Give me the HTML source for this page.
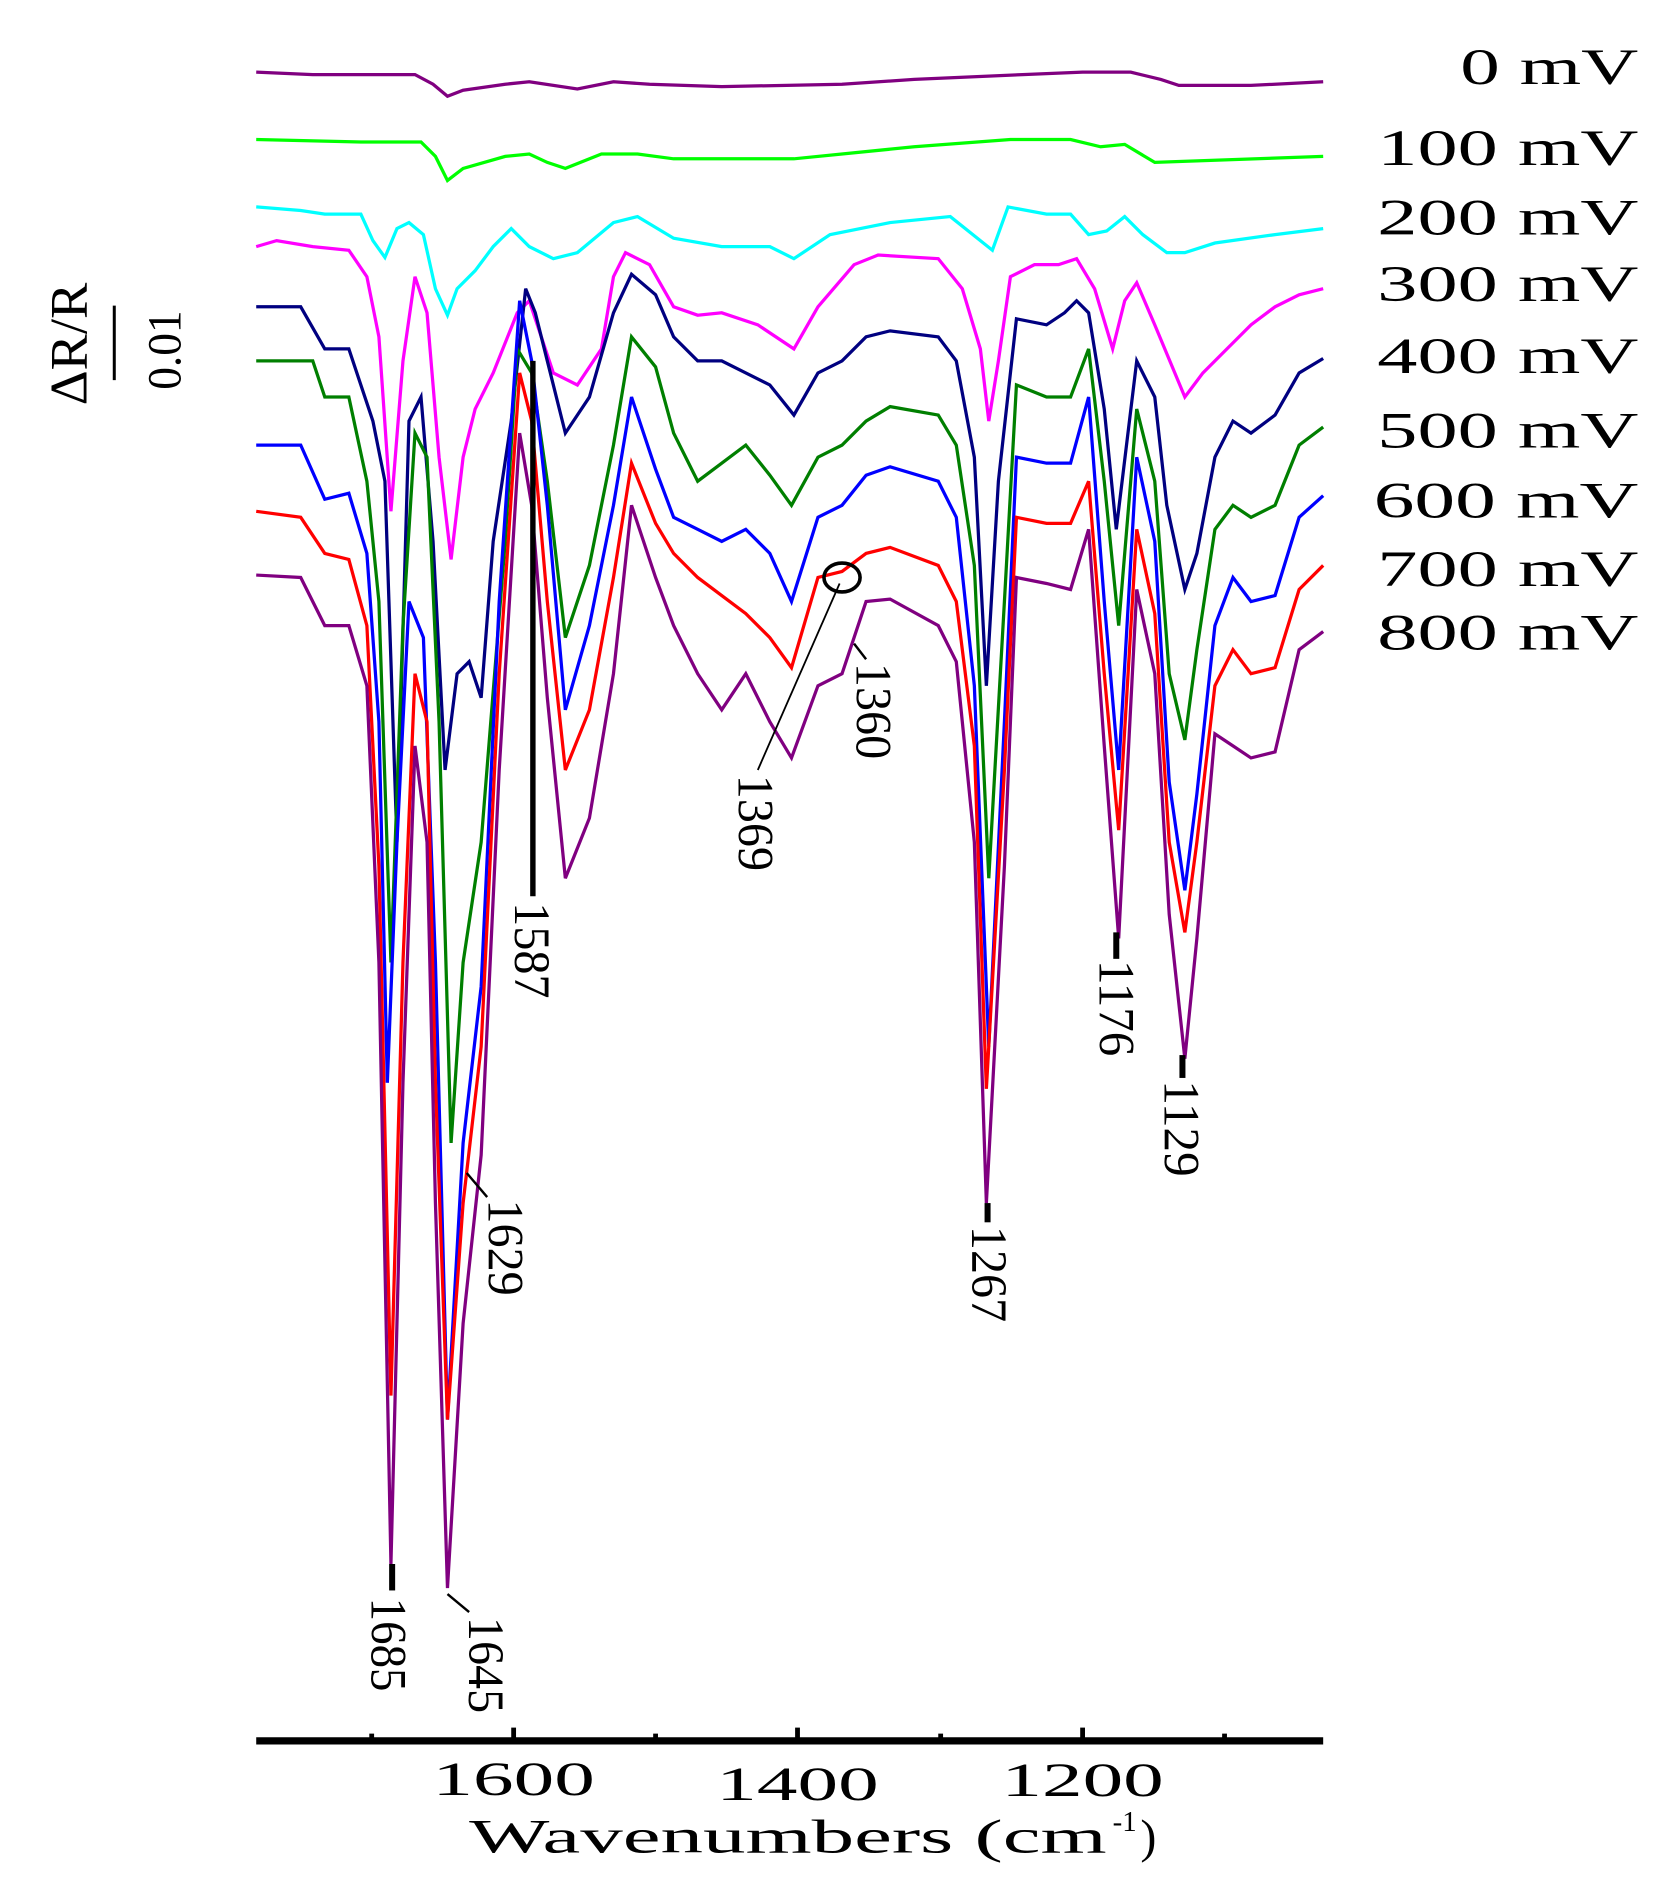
<!DOCTYPE html>
<html><head><meta charset="utf-8"><style>html,body{margin:0;padding:0;background:#fff}svg{display:block}</style></head>
<body>
<svg width="1666" height="1884" viewBox="0 0 1385 1566" preserveAspectRatio="none" xmlns="http://www.w3.org/2000/svg" font-family="Liberation Serif, serif">
<g fill="none" stroke-width="2.7" stroke-linejoin="miter">
<polyline stroke="#800080" points="213,60 260,62 345,62 360,70 372,80 385,75 420,70 440,68 480,74 510,68 540,70 600,72 700,70 760,66 850,62 900,60 940,60 965,66 980,71 1040,71 1100,68"/>
<polyline stroke="#00ff00" points="213,116 300,118 350,118 362,130 372,150 385,140 420,130 440,128 455,135 470,140 500,128 530,128 560,132 660,132 700,128 760,122 840,116 890,116 915,122 935,120 960,135 1100,130"/>
<polyline stroke="#00ffff" points="213,172 250,175 270,178 300,178 310,200 320,214 330,190 340,185 352,195 362,240 372,262 380,240 395,225 410,205 425,190 440,205 460,215 480,210 510,185 530,180 560,198 600,205 640,205 660,215 690,195 740,185 790,180 815,200 825,208 838,172 870,178 890,178 905,195 920,192 935,180 950,195 970,210 985,210 1010,202 1060,195 1100,190"/>
<polyline stroke="#ff00ff" points="213,205 230,200 260,205 290,208 305,230 315,280 325,425 335,300 345,230 355,260 365,380 375,465 385,380 395,340 410,310 430,260 440,250 450,280 460,310 480,320 500,290 510,230 520,210 540,220 560,255 580,262 600,260 630,270 660,290 680,255 710,220 730,212 780,215 800,240 815,290 822,350 830,300 840,230 860,220 880,220 895,215 910,240 925,290 935,250 945,235 960,270 985,330 1000,310 1020,290 1040,270 1060,255 1080,245 1100,240"/>
<polyline stroke="#000080" points="213,255 250,255 270,290 290,290 310,350 320,400 330,700 340,350 350,330 360,450 370,640 380,560 390,550 400,580 410,450 425,350 437,240 445,260 455,300 470,360 490,330 510,260 525,228 545,245 560,280 580,300 600,300 620,310 640,320 660,345 680,310 700,300 720,280 740,275 780,280 795,300 810,380 820,570 830,400 845,265 870,270 885,260 895,250 905,260 918,340 928,440 945,300 960,330 970,420 985,490 995,460 1010,380 1025,350 1040,360 1060,345 1080,310 1100,298"/>
<polyline stroke="#007f00" points="213,300 260,300 270,330 290,330 305,400 315,500 325,800 335,520 345,360 355,380 365,600 375,950 385,800 400,700 420,450 430,290 442,310 455,400 470,530 490,470 510,370 525,280 545,305 560,360 580,400 600,385 620,370 640,395 658,420 680,380 700,370 720,350 740,338 780,345 795,370 810,470 822,730 835,500 845,320 870,330 890,330 905,290 918,400 930,520 945,340 960,400 972,560 985,615 995,540 1010,440 1025,420 1040,430 1060,420 1080,370 1100,355"/>
<polyline stroke="#0000ff" points="213,370 250,370 270,415 290,410 305,460 315,600 322,900 330,700 340,500 352,530 362,800 372,1180 385,950 400,820 415,500 432,250 442,300 455,420 470,590 490,520 510,420 525,330 545,390 560,430 580,440 600,450 620,440 640,460 658,500 680,430 700,420 720,395 740,388 780,400 795,430 810,570 822,870 835,600 845,380 870,385 890,385 905,330 918,500 930,640 945,380 960,450 972,650 985,740 995,660 1010,520 1025,480 1040,500 1060,495 1080,430 1100,412"/>
<polyline stroke="#ff0000" points="213,425 250,430 270,460 290,465 305,520 315,720 325,1160 335,800 345,560 355,600 362,900 372,1180 385,1000 400,870 415,560 432,310 442,350 455,500 470,640 490,590 510,480 525,385 545,435 560,460 580,480 600,495 620,510 640,530 658,555 680,480 700,475 720,460 740,455 780,470 795,500 810,620 820,905 835,640 845,430 870,435 890,435 905,400 918,560 930,690 945,440 960,510 972,700 985,775 995,700 1010,570 1025,540 1040,560 1060,555 1080,490 1100,470"/>
<polyline stroke="#800080" points="213,478 250,480 270,520 290,520 305,570 315,800 325,1300 335,900 345,620 355,700 362,1000 372,1320 385,1100 400,960 415,640 432,360 442,420 455,580 470,730 490,680 510,560 525,420 545,480 560,520 580,560 600,590 620,560 640,600 658,630 680,570 700,560 720,500 740,498 780,520 795,550 810,700 820,1000 835,720 845,480 870,485 890,490 905,440 918,620 930,780 945,490 960,560 972,760 985,880 995,780 1010,610 1025,620 1040,630 1060,625 1080,540 1100,525"/>
</g>
<g stroke="#000">
<line x1="443" y1="300" x2="443" y2="745" stroke-width="4.5"/>
<line x1="326" y1="1300" x2="326" y2="1322" stroke-width="5"/>
<line x1="821" y1="1000" x2="821" y2="1016" stroke-width="5"/>
<line x1="928" y1="775" x2="928" y2="797" stroke-width="5"/>
<line x1="983" y1="877" x2="983" y2="896" stroke-width="5"/>
<line x1="388" y1="975" x2="405" y2="995" stroke-width="2"/>
<line x1="372" y1="1325" x2="390" y2="1340" stroke-width="2"/>
<line x1="630" y1="640" x2="698" y2="485" stroke-width="1.5"/>
<line x1="710" y1="535" x2="720" y2="548" stroke-width="2"/>
<ellipse cx="700" cy="480" rx="15" ry="12" fill="none" stroke-width="3"/>
</g>
<g font-size="42" fill="#000">
<text transform="translate(309,1328) rotate(90)" textLength="78" lengthAdjust="spacingAndGlyphs">1685</text>
<text transform="translate(390,1344) rotate(90)" textLength="80" lengthAdjust="spacingAndGlyphs">1645</text>
<text transform="translate(406,997) rotate(90)" textLength="80" lengthAdjust="spacingAndGlyphs">1629</text>
<text transform="translate(428,750) rotate(90)" textLength="80" lengthAdjust="spacingAndGlyphs">1587</text>
<text transform="translate(614,644) rotate(90)" textLength="80" lengthAdjust="spacingAndGlyphs">1369</text>
<text transform="translate(712,551) rotate(90)" textLength="80" lengthAdjust="spacingAndGlyphs">1360</text>
<text transform="translate(808,1019) rotate(90)" textLength="80" lengthAdjust="spacingAndGlyphs">1267</text>
<text transform="translate(914,798) rotate(90)" textLength="80" lengthAdjust="spacingAndGlyphs">1176</text>
<text transform="translate(968,898) rotate(90)" textLength="80" lengthAdjust="spacingAndGlyphs">1129</text>
</g>
<g font-size="42" fill="#000" text-anchor="end">
<text x="1362" y="70" textLength="148" lengthAdjust="spacingAndGlyphs">0 mV</text>
<text x="1362" y="137" textLength="217" lengthAdjust="spacingAndGlyphs">100 mV</text>
<text x="1362" y="195" textLength="217" lengthAdjust="spacingAndGlyphs">200 mV</text>
<text x="1362" y="250" textLength="217" lengthAdjust="spacingAndGlyphs">300 mV</text>
<text x="1362" y="310" textLength="217" lengthAdjust="spacingAndGlyphs">400 mV</text>
<text x="1362" y="372" textLength="217" lengthAdjust="spacingAndGlyphs">500 mV</text>
<text x="1362" y="430" textLength="220" lengthAdjust="spacingAndGlyphs">600 mV</text>
<text x="1362" y="487" textLength="217" lengthAdjust="spacingAndGlyphs">700 mV</text>
<text x="1362" y="540" textLength="217" lengthAdjust="spacingAndGlyphs">800 mV</text>
</g>
<line x1="213" y1="1447" x2="1100" y2="1447" stroke="#000" stroke-width="6"/>
<g stroke="#000" stroke-width="4">
<line x1="427" y1="1436" x2="427" y2="1447"/><line x1="663" y1="1436" x2="663" y2="1447"/><line x1="900" y1="1436" x2="900" y2="1447"/>
<line x1="309" y1="1441" x2="309" y2="1447"/><line x1="545" y1="1441" x2="545" y2="1447"/><line x1="782" y1="1441" x2="782" y2="1447"/><line x1="1018" y1="1441" x2="1018" y2="1447"/>
</g>
<g font-size="40" fill="#000" text-anchor="middle">
<text x="427" y="1492" textLength="135" lengthAdjust="spacingAndGlyphs">1600</text>
<text x="663" y="1496" textLength="135" lengthAdjust="spacingAndGlyphs">1400</text>
<text x="900" y="1493" textLength="135" lengthAdjust="spacingAndGlyphs">1200</text>
</g>
<text x="390" y="1540" font-size="40" textLength="530" lengthAdjust="spacingAndGlyphs">Wavenumbers (cm</text>
<text x="925" y="1522" font-size="24">-1</text>
<text x="948" y="1540" font-size="40">)</text>
<text transform="translate(72,337) rotate(-90)" font-size="44" textLength="102" lengthAdjust="spacingAndGlyphs">ΔR/R</text>
<line x1="95" y1="254" x2="95" y2="316" stroke="#000" stroke-width="2.5"/>
<text transform="translate(150,324) rotate(-90)" font-size="40" textLength="66" lengthAdjust="spacingAndGlyphs">0.01</text>
</svg>
</body></html>
